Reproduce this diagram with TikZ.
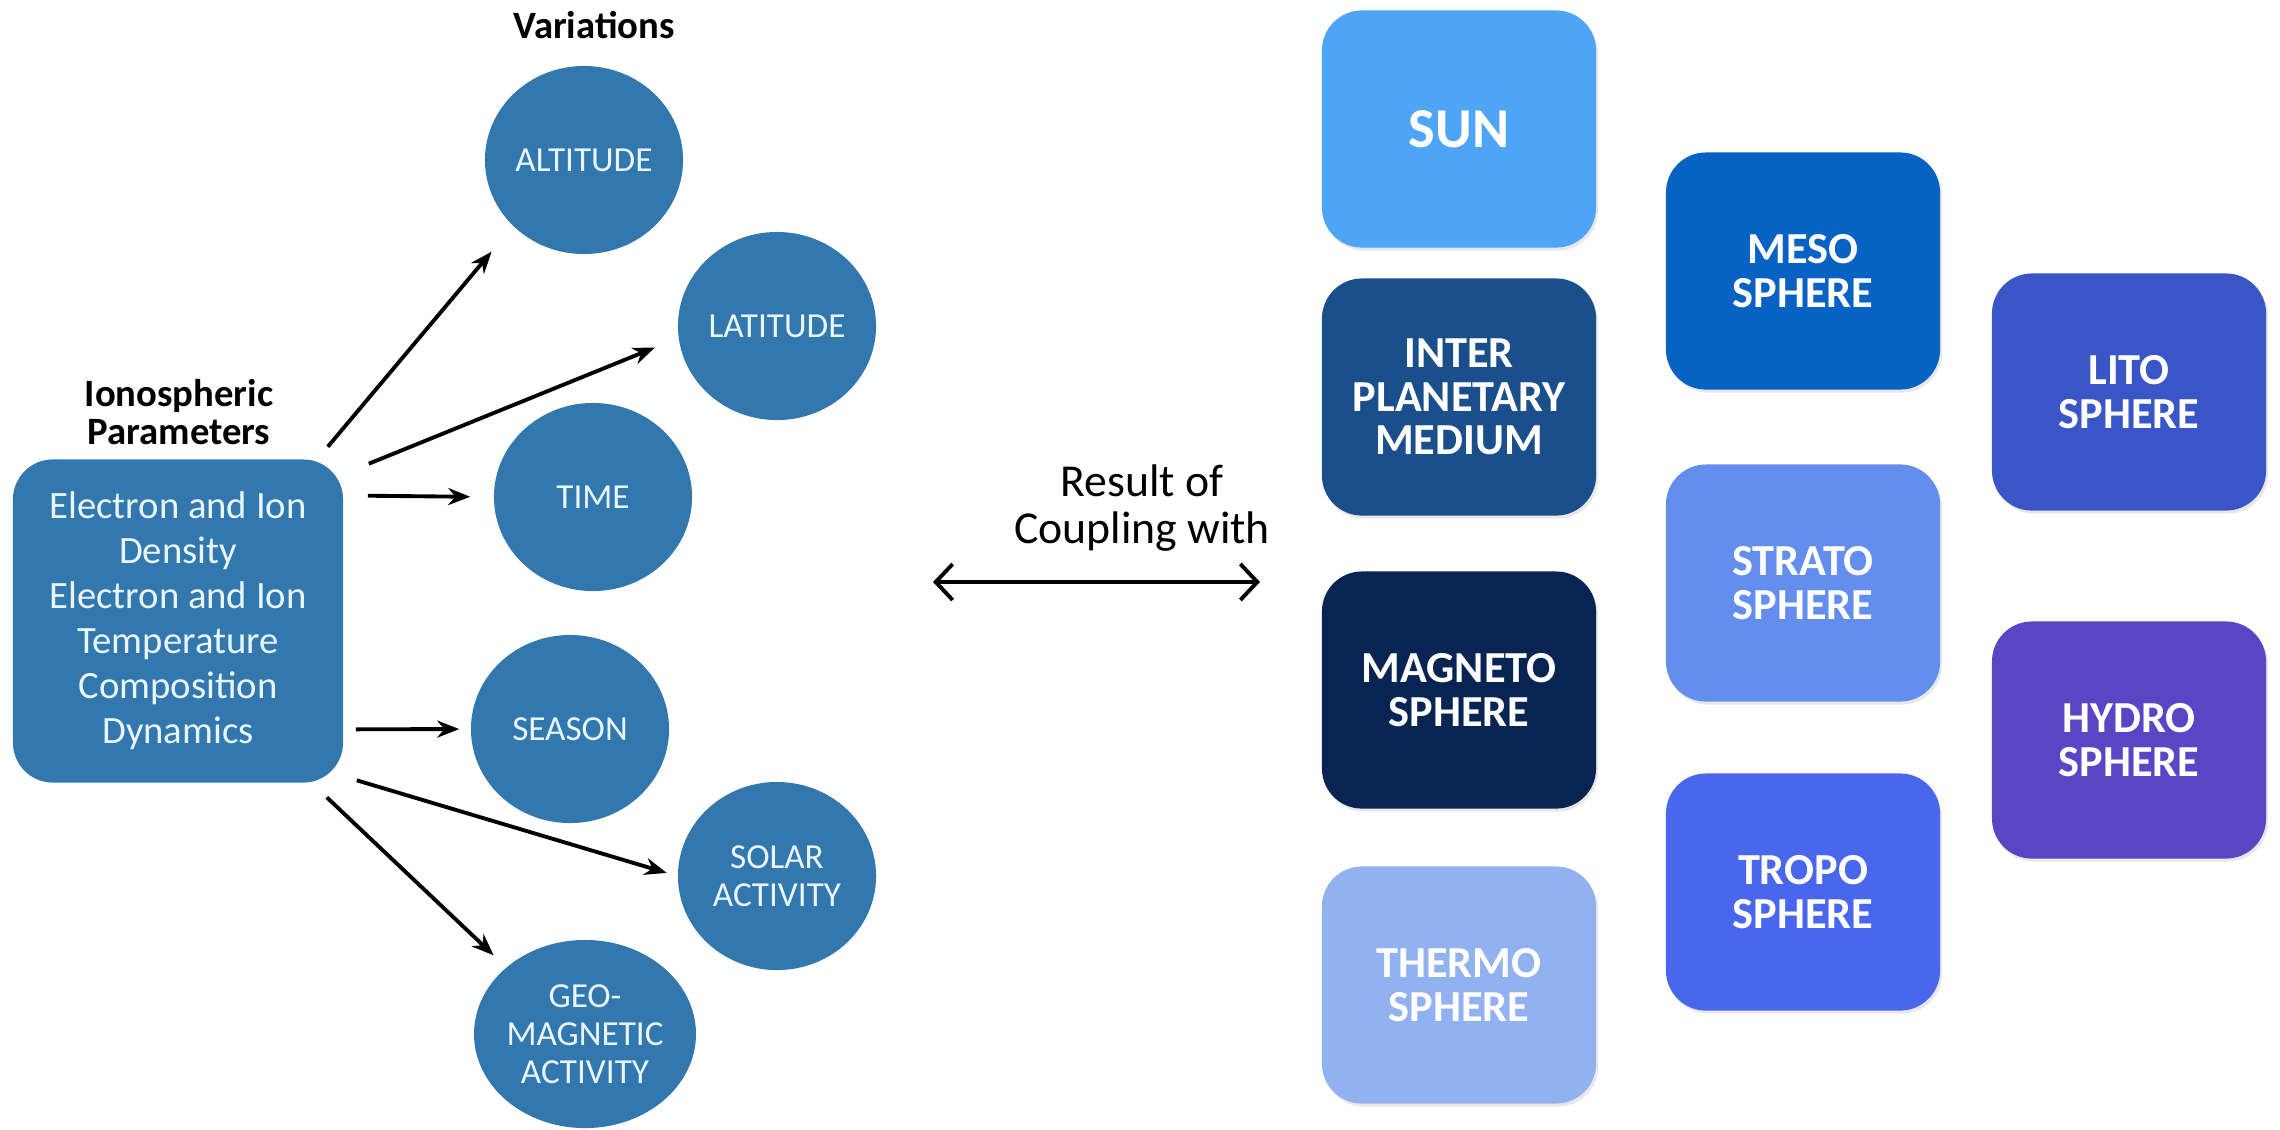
\documentclass[tikz,border=0pt]{standalone}
\usepackage{fontspec}
\setmainfont{Carlito}
\usepackage{xcolor}
\usetikzlibrary{arrows.meta, positioning, shapes.geometric, shadows}

\definecolor{varblue}{RGB}{50,120,175}
\definecolor{vartext}{RGB}{232,245,250}
\definecolor{sunblue}{RGB}{78,164,245}
\definecolor{interblue}{RGB}{27,79,140}
\definecolor{magnetoblue}{RGB}{8,36,82}
\definecolor{thermoblue}{RGB}{145,177,240}
\definecolor{mesoblue}{RGB}{8,98,196}
\definecolor{stratoblue}{RGB}{99,142,238}
\definecolor{tropoblue}{RGB}{73,103,236}
\definecolor{litoblue}{RGB}{58,86,198}
\definecolor{hydroblue}{RGB}{90,70,196}

\begin{document}
\begin{tikzpicture}[
    x=0.01cm, y=-0.01cm,
    param/.style={rectangle, rounded corners=0.4cm, fill=varblue, text=vartext, minimum width=3.3cm, minimum height=3.23cm, align=center, font=\fontsize{11}{12.8}\selectfont},
    varnode/.style={ellipse, fill=varblue, text=vartext, minimum width=1.98cm, minimum height=1.88cm, inner sep=0pt, align=center, font=\fontsize{10}{10.8}\selectfont},
    spherebox/.style={rectangle, rounded corners=0.4cm, minimum width=2.74cm, minimum height=2.37cm, text=white, align=center, font=\bfseries\fontsize{12.6}{12.4}\selectfont, drop shadow={opacity=0.18, shadow xshift=0.02cm, shadow yshift=-0.03cm}},
    titletext/.style={font=\bfseries\fontsize{11}{10.8}\selectfont, align=center},
    line/.style={draw, line width=1.1pt, -{Stealth[length=0.22cm, width=0.17cm]}},
    biline/.style={draw, line width=1.1pt, {Straight Barb[length=0.17cm, width=0.36cm]}-{Straight Barb[length=0.17cm, width=0.36cm]}}
]
\useasboundingbox (0,0) rectangle (2280,1129);

% Nodes
\node[titletext] (partitle) at (179,412) {Ionospheric\\Parameters};
\node[titletext] (vartitle) at (594,25) {Variations};
\node[param] (par) at (178,621) {Electron and Ion\\Density\\Electron and Ion\\Temperature\\Composition\\Dynamics};

% Variations
\foreach \nm/\px/\py/\txt in {altitude/584/160/ALTITUDE, latitude/777/326/LATITUDE, time/593/497/TIME, season/570/729/SEASON, solar/777/876/{SOLAR\\ACTIVITY}, geo/585/1034/{GEO-\\MAGNETIC\\ACTIVITY}}
{
    \node[varnode] (\nm) at (\px,\py) {\txt};
}

% Spheres
\foreach \nm/\px/\py/\col/\txt in {sun/1459/129/sunblue/{\fontsize{16}{16}\selectfont SUN}, inter/1459/397/interblue/{INTER\\PLANETARY\\MEDIUM}, magneto/1459/690/magnetoblue/{MAGNETO\\SPHERE}, thermo/1459/985/thermoblue/{THERMO\\SPHERE}, meso/1803/271/mesoblue/{MESO\\SPHERE}, strato/1803/583/stratoblue/{STRATO\\SPHERE}, tropo/1803/892/tropoblue/{TROPO\\SPHERE}, lito/2129/392/litoblue/{LITO\\SPHERE}, hydro/2129/740/hydroblue/{HYDRO\\SPHERE}}
{
    \node[spherebox, fill=\col] (\nm) at (\px,\py) {\txt};
}

% Draw arrows
\draw[line, shorten >=0.33cm] ([shift={(-16,-12)}]par.north east) -- (altitude.223);
\draw[line, shorten >=0.25cm] ([shift={(25,5)}]par.north east) -- (latitude.187);
\draw[line, shorten >=0.23cm] ([shift={(24,37)}]par.north east) -- (time.west);
\draw[line, shorten >=0.11cm] ([shift={(12,-54)}]par.south east) -- (season.west);
\draw[line, shorten >=0.11cm] ([shift={(13,-3)}]par.south east) -- (solar.west);
\draw[line, shorten >=0.17cm] ([shift={(-17,14)}]par.south east) -- (geo.north west);

% Coupling
\coordinate (cl) at (933,582);
\coordinate (cr) at (1260,582);
\draw[biline] (cl) -- (cr);
\node[font=\fontsize{13}{13.5}\selectfont, align=center] (coupling) at (1142,508) {Result of\\Coupling with};

\end{tikzpicture}
\end{document}
